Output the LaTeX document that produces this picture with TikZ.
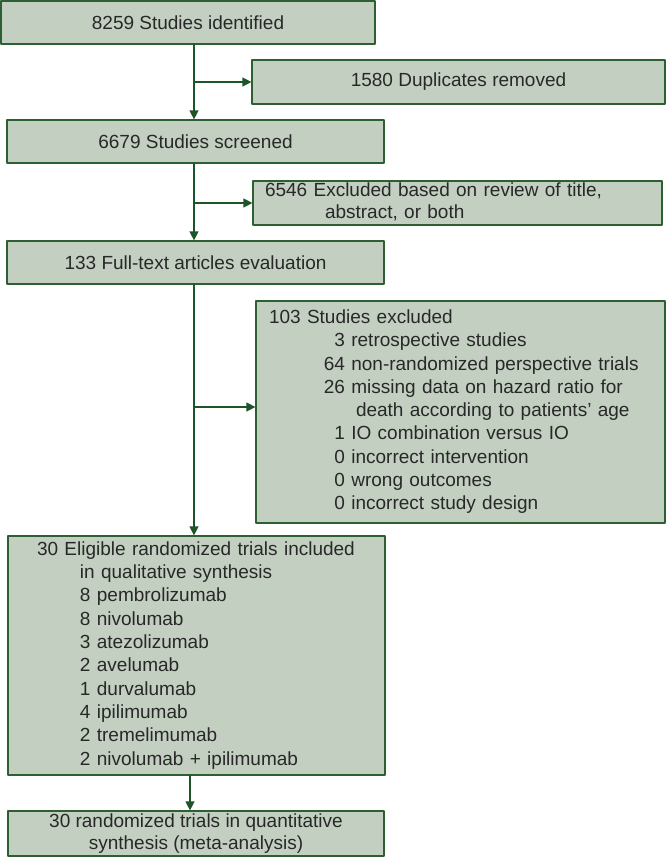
\documentclass[tikz,border=0pt]{standalone}
\usepackage{fontspec}
\setmainfont{Liberation Sans}
\usetikzlibrary{arrows.meta}
\definecolor{boxfill}{RGB}{195,208,193}
\definecolor{boxline}{RGB}{45,95,50}
\definecolor{arrowgreen}{RGB}{30,85,40}
\definecolor{textgray}{RGB}{40,40,40}

\newcommand{\exitem}[2]{\makebox[76pt][r]{#1} #2}

\begin{document}
\begin{tikzpicture}[line cap=round,line join=round,>={Triangle[length=9pt,width=9pt]},x=1pt,y=-1pt,
  box/.style={draw=boxline, fill=boxfill, line width=1.2pt, text=textgray,
    font=\fontsize{19}{23.3}\selectfont, inner sep=0pt, align=center},
  flow/.style={->, color=arrowgreen, line width=1.3pt}]
\useasboundingbox (0,0) rectangle (666,859);

% main column
\node[box, minimum width=374pt, minimum height=43pt] (ident) at (188,22.5) {8259 Studies identified};
\node[box, minimum width=377pt, minimum height=43pt] (screen) at (195.5,141.5) {6679 Studies screened};
\node[box, minimum width=377pt, minimum height=43pt] (fulltext) at (195.5,262.5) {133 Full-text articles evaluation};
\node[box, minimum width=377pt, minimum height=239pt, align=left, inner xsep=29pt, text width=319pt] (elig) at (196.5,655.5)
  {\begin{tabular}{@{}l@{}}
  30 Eligible randomized trials included\\
  \hspace*{43pt}in qualitative synthesis\\
  \hspace*{43pt}8 pembrolizumab\\
  \hspace*{43pt}8 nivolumab\\
  \hspace*{43pt}3 atezolizumab\\
  \hspace*{43pt}2 avelumab\\
  \hspace*{43pt}1 durvalumab\\
  \hspace*{43pt}4 ipilimumab\\
  \hspace*{43pt}2 tremelimumab\\
  \hspace*{43pt}2 nivolumab + ipilimumab
  \end{tabular}};
\node[box, minimum width=376pt, minimum height=45pt, font=\fontsize{19}{22}\selectfont] (quant) at (196,833.5)
  {30 randomized trials in quantitative\\ synthesis (meta-analysis)};

% side boxes
\node[box, minimum width=413pt, minimum height=44pt] (dup) at (458.5,82) {1580 Duplicates removed};
\node[box, minimum width=409pt, minimum height=44pt, align=left, inner xsep=12pt, text width=385pt,
  font=\fontsize{19}{21.5}\selectfont] (title) at (457.5,203)
  {\begin{tabular}{@{}l@{}}
  6546 Excluded based on review of title,\\
  \hspace*{60pt}abstract, or both
  \end{tabular}};
\node[box, minimum width=409pt, minimum height=222pt, align=left, inner xsep=13pt, text width=383pt] (excl) at (460.5,412)
  {\begin{tabular}{@{}l@{}}
  103 Studies excluded\\
  \exitem{3}{retrospective studies}\\
  \exitem{64}{non-randomized perspective trials}\\
  \exitem{26}{missing data on hazard ratio for}\\
  \hspace*{87pt}death according to patients' age\\
  \exitem{1}{IO combination versus IO}\\
  \exitem{0}{incorrect intervention}\\
  \exitem{0}{wrong outcomes}\\
  \exitem{0}{incorrect study design}
  \end{tabular}};

% arrows
\coordinate (trunk) at (194,0);
\coordinate (lastx) at (190,0);
\draw[flow] (ident.south -| trunk) -- (screen.north -| trunk);
\draw[flow] (dup.west -| trunk) -- (dup.west);
\draw[flow] (screen.south -| trunk) -- (fulltext.north -| trunk);
\draw[flow] (title.west -| trunk) -- (title.west);
\draw[flow] (fulltext.south -| trunk) -- (elig.north -| trunk);
\draw[flow] ([yshift=5pt]excl.west -| trunk) -- ([yshift=5pt]excl.west);
\draw[flow] (elig.south -| lastx) -- (quant.north -| lastx);

\end{tikzpicture}
\end{document}
